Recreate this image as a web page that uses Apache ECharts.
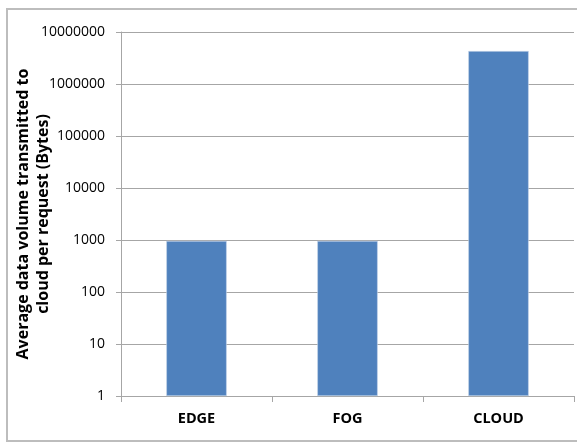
<!DOCTYPE html>
<html>
<head>
<meta charset="utf-8">
<script src="https://cdn.jsdelivr.net/npm/echarts@6/dist/echarts.min.js"></script>
<style>
  html, body { margin: 0; padding: 0; background: #ffffff; overflow: hidden; }
  #chart { width: 577px; height: 445px; }
</style>
</head>
<body>
<div id="chart"></div>
<script>
// Average bytes sent to the cloud per request, by processing tier
const categories = ['EDGE', 'FOG', 'CLOUD'];
const bytesPerRequest = [960, 960, 4300000];
const yTitleLines = ['Average data volume transmitted to', 'cloud per request (Bytes)'];

const FONT = '"Open Sans", "Liberation Sans", sans-serif';
const chart = echarts.init(document.getElementById('chart'), null, { renderer: 'canvas' });

chart.setOption({
  backgroundColor: '#ffffff',
  animation: false,
  graphic: [{
    type: 'rect',
    silent: true,
    shape: { x: 7, y: 9, width: 620, height: 432 },
    style: { fill: 'none', stroke: '#bdbdbd', lineWidth: 2 }
  }],
  grid: {
    left: 121, top: 32, width: 453, height: 364,
    containLabel: false,
    outerBoundsMode: 'none'
  },
  xAxis: {
    type: 'category',
    data: categories,
    axisLine: { lineStyle: { color: '#a6a6a6', width: 1 } },
    axisTick: { show: true, length: 6, lineStyle: { color: '#a6a6a6' } },
    axisLabel: { margin: 15, color: '#000000', fontFamily: FONT, fontSize: 14.5, fontWeight: 'bold' },
    splitLine: { show: false }
  },
  yAxis: {
    type: 'log',
    logBase: 10,
    min: 1,
    max: 10000000,
    splitNumber: 7,
    name: yTitleLines.join('\n'),
    nameLocation: 'middle',
    nameGap: 68,
    nameMoveOverlap: false,
    nameTextStyle: { color: '#000000', fontFamily: FONT, fontSize: 16, fontWeight: 'bold', lineHeight: 20 },
    axisLine: { show: true, lineStyle: { color: '#a6a6a6', width: 1 } },
    axisTick: { show: true, length: 5, lineStyle: { color: '#a6a6a6' } },
    axisLabel: {
      margin: 16,
      color: '#000000',
      fontFamily: FONT,
      fontSize: 14,
      formatter: v => String(Math.round(v))
    },
    splitLine: { show: true, lineStyle: { color: '#a6a6a6', width: 1 } },
    minorTick: { show: false }
  },
  series: [{
    type: 'bar',
    data: bytesPerRequest,
    barWidth: '40%',
    itemStyle: { color: '#4f81bd', borderColor: '#c6d5ea', borderWidth: 0.6 }
  }]
});
</script>
</body>
</html>
